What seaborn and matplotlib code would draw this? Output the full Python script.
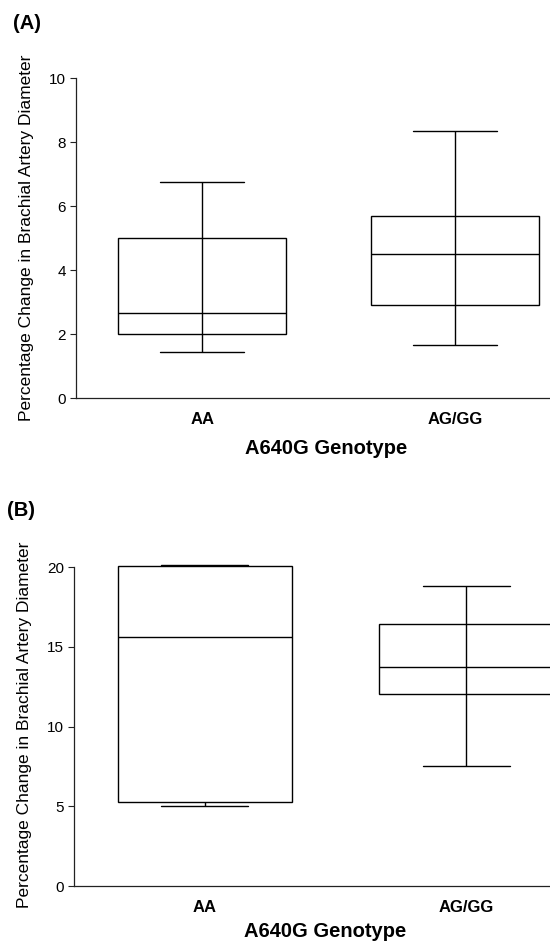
import numpy as np
import pandas as pd
import matplotlib
matplotlib.use("Agg")
import matplotlib.pyplot as plt
import seaborn as sns

categories = ["AA", "AG/GG"]

# Panel A: five-number summaries (whisker low, Q1, median, Q3, whisker high)
a_low = [1.45, 1.65]
a_q1 = [2.00, 2.92]
a_med = [2.65, 4.49]
a_q3 = [5.01, 5.69]
a_high = [6.74, 8.36]
a_ticks = [0, 2, 4, 6, 8, 10]

# Panel B
b_low = [5.02, 7.51]
b_q1 = [5.30, 12.07]
b_med = [15.60, 13.74]
b_q3 = [20.07, 16.47]
b_high = [20.15, 18.80]
b_ticks = [0, 5, 10, 15, 20]

ylabel = "Percentage Change in Brachial Artery Diameter"
xlabel = "A640G Genotype"

sns.set_style("ticks")
plt.rcParams["font.family"] = ["Liberation Sans", "DejaVu Sans"]
for k in ("text.color", "axes.labelcolor", "xtick.color", "ytick.color"):
    plt.rcParams[k] = "black"


def make_df(lo, q1, med, q3, hi):
    rows = []
    for i, c in enumerate(categories):
        for v in (lo[i], q1[i], med[i], q3[i], hi[i]):
            rows.append({"genotype": c, "value": v})
    return pd.DataFrame(rows)


dfa = make_df(a_low, a_q1, a_med, a_q3, a_high)
dfb = make_df(b_low, b_q1, b_med, b_q3, b_high)

fig = plt.figure(figsize=(5.5, 9.46), dpi=100)
W, H = 550, 946


def axes_px(left, right, top, bottom):
    return fig.add_axes([left / W, 1 - bottom / H, (right - left) / W, (bottom - top) / H])


axA = axes_px(75.8, 550, 78, 398.3)
axB = axes_px(74, 550, 563.3, 886)


def style(ax, df, q1, q3, ticks, top, ylim, through, lab_y):
    sns.boxplot(data=df, x="genotype", y="value", order=categories, whis=(0, 100),
                width=0.664, color="white", linecolor="black", linewidth=1.0,
                showfliers=False, ax=ax)
    ax.set_ylim(*ylim)
    ax.set_yticks(ticks)
    ax.set_yticklabels([str(t) for t in ticks], fontsize=11)
    ax.spines["top"].set_visible(False)
    ax.spines["right"].set_visible(False)
    ax.spines["left"].set_bounds(0, top)
    for s in ("left", "bottom"):
        ax.spines[s].set_color("#222222")
        ax.spines[s].set_linewidth(0.9)
    ax.tick_params(axis="y", length=4, width=0.8, pad=3, color="#222222")
    ax.tick_params(axis="x", length=0, pad=10)
    for t in ax.get_xticklabels():
        t.set_fontweight("bold")
        t.set_fontsize(12)
    ax.set_xlabel(xlabel, fontsize=14.5, fontweight="bold", va="center")
    ax.set_ylabel(ylabel, fontsize=12.5, va="center")
    ax.yaxis.set_label_coords(-0.103, 0.5)
    ax.xaxis.set_label_coords(0.5277, lab_y)
    for i, flag in enumerate(through):
        if flag:
            ax.vlines(i, q1[i], q3[i], color="black", linewidth=1.0, zorder=5)


style(axA, dfa, a_q1, a_q3, a_ticks, 10, (0, 10), [True, True], -0.156)
style(axB, dfb, b_q1, b_q3, b_ticks, 20, (0, 20.25), [False, True], -0.1425)

# x limits: the axes run to the figure's right edge (image is cropped there)
axA.set_xlim(-0.5, -0.5 + (550 - 75.8) / 253.0)
axB.set_xlim(-0.5, -0.5 + (550 - 74) / 261.5)

fig.text(13 / W, 1 - 23.5 / H, "(A)", fontsize=14.5, fontweight="bold", va="center", ha="left")
fig.text(7 / W, 1 - 510 / H, "(B)", fontsize=14.5, fontweight="bold", va="center", ha="left")

fig.savefig("out.png", dpi=100, facecolor="white")
